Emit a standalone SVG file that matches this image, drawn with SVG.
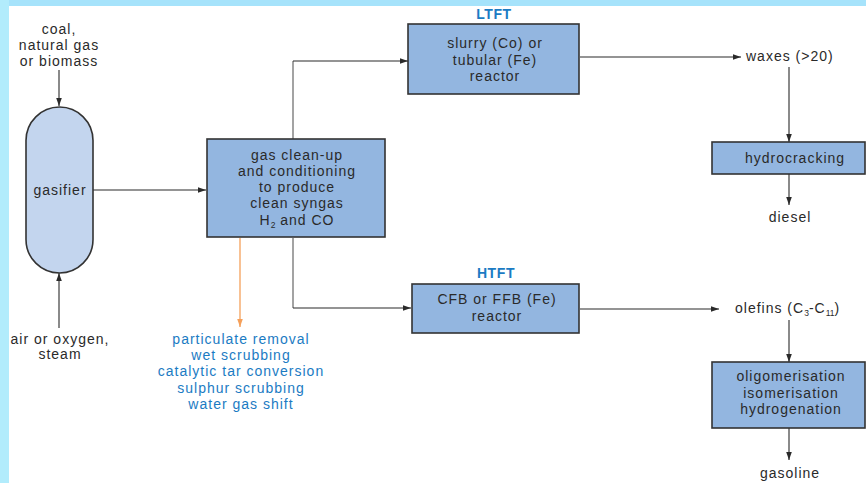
<svg xmlns="http://www.w3.org/2000/svg" width="866" height="483" viewBox="0 0 866 483">
<style>
text{font-family:"Liberation Sans",Arial,sans-serif;font-size:14px;letter-spacing:1px;fill:#2a2a2a;text-anchor:middle}
.box{fill:#93b6e0;stroke:#333;stroke-width:1.6}
.cap{fill:#c3d5ee;stroke:#333;stroke-width:1.6}
.ln{fill:none;stroke:#2a2a2a;stroke-width:1.1}
.gr{fill:none;stroke:#8c8c8c;stroke-width:1.6}
.or{fill:none;stroke:#f5a05a;stroke-width:1.3}
.lab{fill:#1b7bc3;font-weight:bold;font-size:14px;letter-spacing:0.6px}
.blue{fill:#1b7bc3}
.sub{font-size:8.5px;letter-spacing:0}
</style>
<defs>
<marker id="ah" viewBox="0 0 10 10" refX="10" refY="5" markerWidth="8" markerHeight="8" markerUnits="userSpaceOnUse" orient="auto"><path d="M0,1.5 L10,5 L0,8.5 z" fill="#2a2a2a"/></marker>
<marker id="aho" viewBox="0 0 10 10" refX="10" refY="5" markerWidth="8" markerHeight="8" markerUnits="userSpaceOnUse" orient="auto"><path d="M0,1.5 L10,5 L0,8.5 z" fill="#f5a05a"/></marker>
</defs>
<rect x="0" y="0" width="866" height="483" fill="#ffffff"/>
<rect x="0" y="0" width="866" height="6" fill="#a6e3fb"/>
<rect x="0" y="0" width="9" height="483" fill="#b2ecfc"/>

<g id="connectors">
<path class="ln" d="M59,70 V106" marker-end="url(#ah)"/>
<path class="ln" d="M59,328 V273" marker-end="url(#ah)"/>
<path class="ln" d="M93,190 H206" marker-end="url(#ah)"/>
<path class="gr" d="M293,139 V61"/>
<path class="ln" d="M293,61 H408" marker-end="url(#ah)"/>
<path class="gr" d="M293,238 V308"/>
<path class="ln" d="M293,308 H411" marker-end="url(#ah)"/>
<path class="or" d="M240,238 V327" marker-end="url(#aho)"/>
<path class="ln" d="M580,57 H741" marker-end="url(#ah)"/>
<path class="ln" d="M789,67 V142" marker-end="url(#ah)"/>
<path class="ln" d="M789,174 V205" marker-end="url(#ah)"/>
<path class="ln" d="M580,309 H719" marker-end="url(#ah)"/>
<path class="ln" d="M789,320 V362" marker-end="url(#ah)"/>
<path class="ln" d="M789,428 V460" marker-end="url(#ah)"/>
</g>

<g id="feed">
<text x="59" y="34">coal,</text>
<text x="59" y="50">natural gas</text>
<text x="59" y="66">or biomass</text>
</g>
<g id="air">
<text x="60" y="344">air or oxygen,</text>
<text x="60" y="359">steam</text>
</g>
<g id="gasifier">
<rect class="cap" x="26" y="107" width="67" height="166" rx="33.5" ry="33.5"/>
<text x="60" y="195">gasifier</text>
</g>
<g id="cleanup">
<rect class="box" x="207" y="139" width="178" height="98"/>
<text x="297" y="160">gas clean-up</text>
<text x="297" y="176">and conditioning</text>
<text x="297" y="192">to produce</text>
<text x="297" y="208">clean syngas</text>
<text x="297" y="225">H<tspan class="sub" dy="3">2</tspan><tspan dy="-3"> and CO</tspan></text>
</g>
<g id="cleanup-steps">
<text class="blue" x="241" y="344">particulate removal</text>
<text class="blue" x="241" y="360">wet scrubbing</text>
<text class="blue" x="241" y="376">catalytic tar conversion</text>
<text class="blue" x="241" y="393">sulphur scrubbing</text>
<text class="blue" x="241" y="409">water gas shift</text>
</g>
<g id="ltft">
<text class="lab" x="494" y="19">LTFT</text>
<rect class="box" x="408" y="24" width="171" height="70"/>
<text x="495" y="48">slurry (Co) or</text>
<text x="495" y="65">tubular (Fe)</text>
<text x="495" y="81">reactor</text>
</g>
<g id="htft">
<text class="lab" x="496" y="278">HTFT</text>
<rect class="box" x="412" y="284" width="167" height="49"/>
<text x="497" y="304">CFB or FFB (Fe)</text>
<text x="497" y="321">reactor</text>
</g>
<g id="waxes">
<text x="746" y="61" style="text-anchor:start">waxes (&gt;20)</text>
</g>
<g id="hydrocracking">
<rect class="box" x="712" y="142" width="153" height="32"/>
<text x="795" y="163">hydrocracking</text>
</g>
<g id="diesel">
<text x="790" y="222">diesel</text>
</g>
<g id="olefins">
<text x="735" y="313" style="text-anchor:start">olefins (C<tspan class="sub" dy="3">3</tspan><tspan dy="-3">-C</tspan><tspan class="sub" dy="3">11</tspan><tspan dy="-3">)</tspan></text>
</g>
<g id="upgrading">
<rect class="box" x="712" y="362" width="153" height="66"/>
<text x="791" y="381">oligomerisation</text>
<text x="791" y="398">isomerisation</text>
<text x="791" y="414">hydrogenation</text>
</g>
<g id="gasoline">
<text x="790" y="478">gasoline</text>
</g>
</svg>
